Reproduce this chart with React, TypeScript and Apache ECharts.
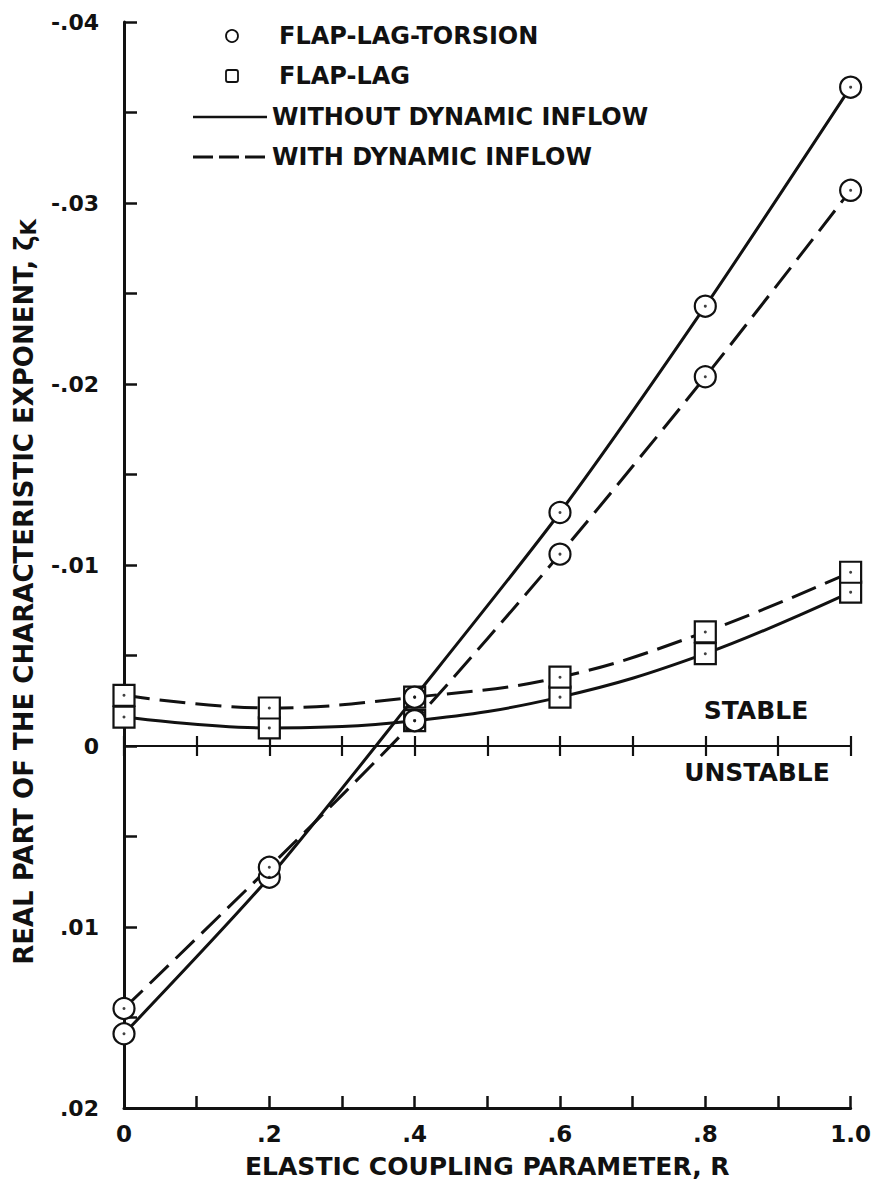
import React, { useEffect, useRef } from "react";
import * as echarts from "echarts";

// Elastic coupling parameter R
const R = [0, 0.2, 0.4, 0.6, 0.8, 1.0];
// Real part of characteristic exponent
const fltWithout = [0.0159, 0.00725, -0.0027, -0.0129, -0.0243, -0.0364];
const fltWith = [0.0145, 0.0067, -0.0014, -0.0106, -0.0204, -0.0307];
const flWithout = [-0.0016, -0.001, -0.0014, -0.0027, -0.0051, -0.0085];
const flWith = [-0.0028, -0.0021, -0.0027, -0.0038, -0.0063, -0.0096];

const yMin = -0.04;
const yMax = 0.02;
const xMin = 0;
const xMax = 1.0;

const legendLabels = [
  "FLAP-LAG-TORSION",
  "FLAP-LAG",
  "WITHOUT DYNAMIC INFLOW",
  "WITH DYNAMIC INFLOW",
];
const xTitle = "ELASTIC COUPLING PARAMETER, R";
const yTitle = "REAL PART OF THE CHARACTERISTIC EXPONENT, ζ";
const yTitleSub = "K";

const FONT = '"DejaVu Sans", "Liberation Sans", sans-serif';
const INK = "#111";

const fmtY = (v: number) => {
  if (Math.abs(v) < 1e-9) return "0";
  const s = Math.abs(v).toFixed(2).slice(1);
  return (v < 0 ? "-" : "") + s;
};
const fmtX = (v: number) => {
  if (Math.abs(v) < 1e-9) return "0";
  if (Math.abs(v - 1) < 1e-9) return "1.0";
  return v.toFixed(1).slice(1);
};

const pts = (arr: number[]) => R.map((x, i) => [x, arr[i]]);

export default function App() {
  const ref = useRef<HTMLDivElement>(null);
  useEffect(() => {
    if (!ref.current) return;
    const chart = echarts.init(ref.current, undefined, { renderer: "svg" });
    const solid = { color: INK, width: 3, type: "solid" as const };
    const dashed = { color: INK, width: 3, type: [26, 10] as any };
    const lineSeries = (name: string, data: number[], symbol: string, ls: any, smooth: number, z: number) => ({
      name,
      type: "line",
      data: pts(data),
      smooth,
      symbol,
      symbolSize: 21,
      showSymbol: true,
      lineStyle: ls,
      itemStyle: { color: "#fff", borderColor: INK, borderWidth: 2.2 },
      z,
    });
    const dotSeries = (data: number[]) => ({
      type: "scatter",
      data: pts(data),
      symbol: "circle",
      symbolSize: 3,
      itemStyle: { color: INK },
      z: 10,
      silent: true,
    });
    const xZeroAxis = (inside: boolean) => ({
      type: "value",
      min: xMin,
      max: xMax,
      interval: 0.1,
      position: "bottom",
      axisLine: { show: true, onZero: true, onZeroAxisIndex: 0, lineStyle: { color: INK, width: 2.2 } },
      axisTick: { show: true, inside, length: 10, lineStyle: { color: INK, width: 2.2 } },
      axisLabel: { show: false },
      splitLine: { show: false },
    });

    chart.setOption({
      animation: false,
      backgroundColor: "#fff",
      grid: { left: 124, right: 22, top: 22, bottom: 75 },
      xAxis: [
        {
          type: "value",
          min: xMin,
          max: xMax,
          interval: 0.2,
          position: "bottom",
          axisLine: { show: true, onZero: false, lineStyle: { color: INK, width: 3 } },
          axisTick: { show: true, inside: true, length: 12, lineStyle: { color: INK, width: 2.5 } },
          minorTick: { show: true, splitNumber: 2, length: 12, lineStyle: { color: INK, width: 2.5 } },
          splitLine: { show: false },
          minorSplitLine: { show: false },
          axisLabel: {
            formatter: fmtX,
            fontSize: 23,
            fontWeight: "bold",
            fontFamily: FONT,
            color: INK,
            margin: 14,
            showMinLabel: true,
            showMaxLabel: true,
          },
          name: xTitle,
          nameLocation: "middle",
          nameGap: 46,
          nameTextStyle: { fontSize: 25, fontWeight: "bold", fontFamily: FONT, color: INK },
        },
        xZeroAxis(false),
        xZeroAxis(true),
      ],
      yAxis: {
        type: "value",
        inverse: true,
        min: yMin,
        max: yMax,
        interval: 0.01,
        axisLine: { show: true, onZero: false, lineStyle: { color: INK, width: 3 } },
        axisTick: { show: true, inside: true, length: 13, lineStyle: { color: INK, width: 2.5 } },
        minorTick: { show: true, splitNumber: 2, length: 13, lineStyle: { color: INK, width: 2.5 } },
        splitLine: { show: false },
        minorSplitLine: { show: false },
        axisLabel: {
          formatter: fmtY,
          fontSize: 22,
          fontWeight: "bold",
          fontFamily: FONT,
          color: INK,
          margin: 25,
        },
      },
      series: [
        lineSeries("FLAP-LAG without", flWithout, "rect", solid, 0.4, 3),
        lineSeries("FLAP-LAG with", flWith, "rect", dashed, 0.4, 3),
        lineSeries("FLAP-LAG-TORSION without", fltWithout, "circle", solid, 0.25, 4),
        lineSeries("FLAP-LAG-TORSION with", fltWith, "circle", dashed, 0.25, 4),
        dotSeries(flWithout),
        dotSeries(flWith),
        dotSeries(fltWithout),
        dotSeries(fltWith),
      ],
      graphic: [
        { type: "circle", shape: { cx: 232, cy: 36, r: 6 }, style: { fill: "#fff", stroke: INK, lineWidth: 1.8 } },
        { type: "rect", shape: { x: 226, y: 70, width: 12, height: 12, r: 2 }, style: { fill: "#fff", stroke: INK, lineWidth: 1.8 } },
        { type: "line", shape: { x1: 193, y1: 117, x2: 267, y2: 117 }, style: { stroke: INK, lineWidth: 2.5 } },
        { type: "line", shape: { x1: 193, y1: 157, x2: 267, y2: 157 }, style: { stroke: INK, lineWidth: 3, lineDash: [20, 6] } },
        ...legendLabels.map((t, i) => ({
          type: "text",
          x: i < 2 ? 279 : 272,
          y: [36, 76, 117, 157][i],
          style: {
            text: t,
            fontSize: 24,
            fontWeight: "bold",
            fontFamily: FONT,
            fill: INK,
            align: "left",
            verticalAlign: "middle",
          },
        })),
        {
          type: "text",
          x: 756,
          y: 710,
          style: { text: "STABLE", fontSize: 25, fontWeight: "bold", fontFamily: FONT, fill: INK, align: "center", verticalAlign: "middle" },
        },
        {
          type: "text",
          x: 757,
          y: 772,
          style: { text: "UNSTABLE", fontSize: 25, fontWeight: "bold", fontFamily: FONT, fill: INK, align: "center", verticalAlign: "middle" },
        },
        {
          type: "text",
          x: 24,
          y: 592,
          rotation: Math.PI / 2,
          style: {
            text: "{a|" + yTitle + "}{b|" + yTitleSub + "}",
            align: "center",
            verticalAlign: "middle",
            rich: {
              a: { fontSize: 26, fontWeight: "bold", fontFamily: FONT, fill: INK, lineHeight: 30 },
              b: { fontSize: 21, fontWeight: "bold", fontFamily: FONT, fill: INK, lineHeight: 30, padding: [10, 0, 0, 0] },
            },
          },
        },
      ],
    });
    return () => chart.dispose();
  }, []);
  return (
    <div
      ref={ref}
      style={{ position: "absolute", left: 0, top: 0, width: 874, height: 1184 }}
    />
  );
}
